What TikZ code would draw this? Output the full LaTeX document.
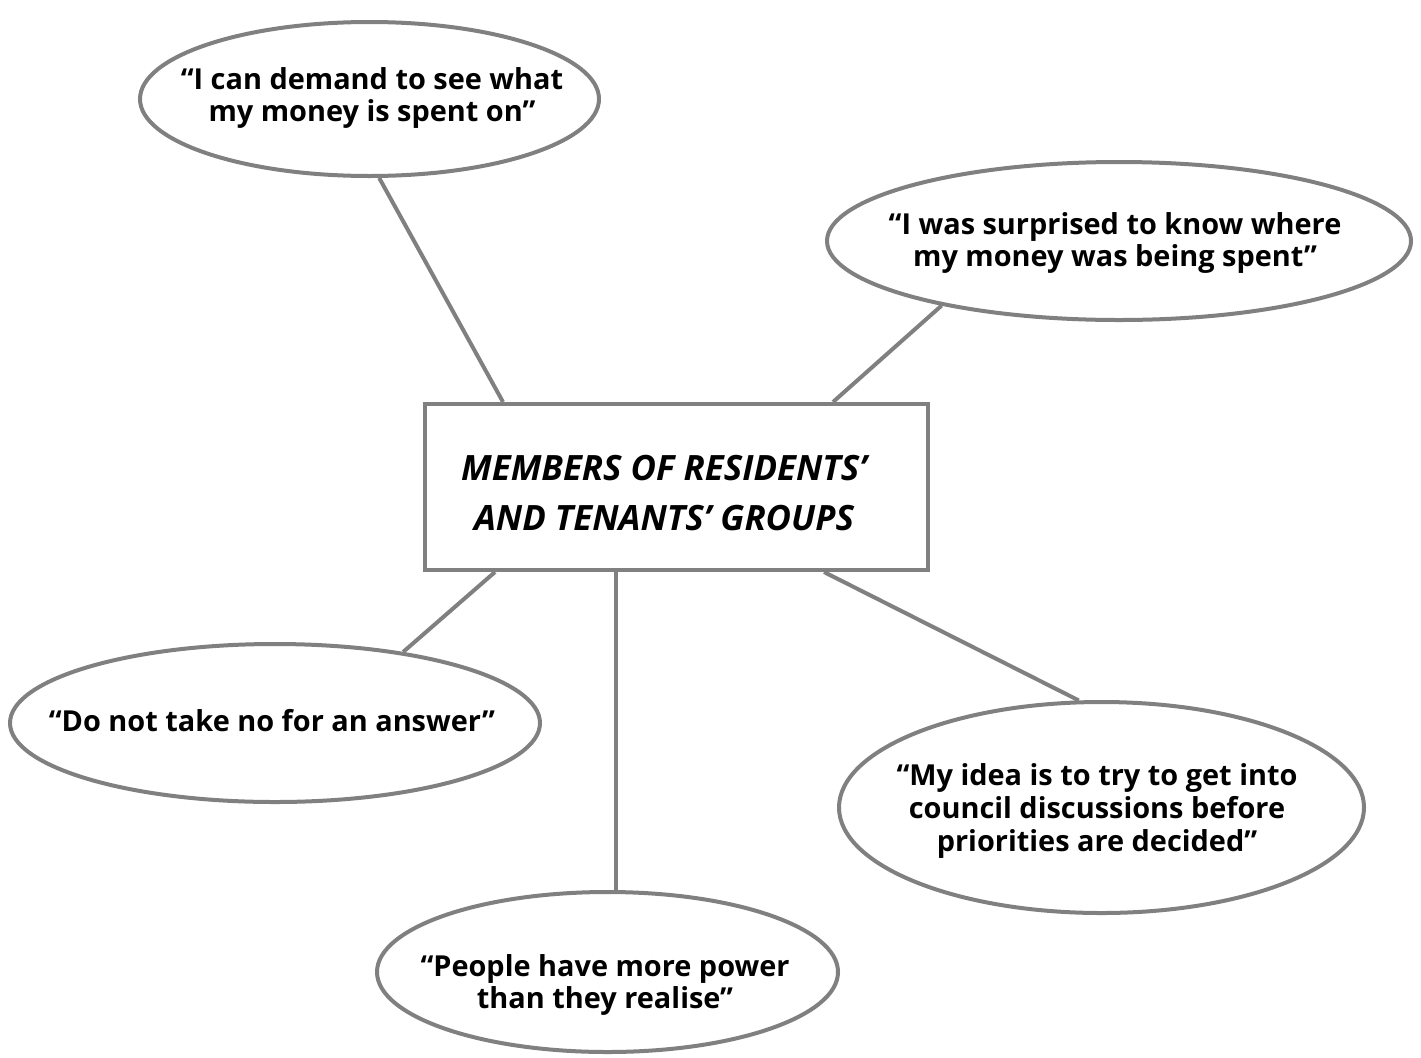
\documentclass[tikz,border=0pt]{standalone}
\usepackage{fontspec}
\setmainfont{Open Sans}
\usetikzlibrary{shapes.geometric,calc}
\definecolor{linegray}{HTML}{808080}
\begin{document}
\begin{tikzpicture}[x=1bp,y=-1bp,
  bubble/.style={ellipse, draw=linegray, line width=4bp, fill=white, inner sep=0pt},
  quote/.style={font=\fontsize{29}{33}\selectfont\bfseries, align=center, text=black, inner sep=0pt},
  titlebox/.style={rectangle, draw=linegray, line width=4bp, fill=white, inner sep=0pt, minimum width=503bp, minimum height=166bp},
  titletext/.style={font=\fontsize{35}{50}\selectfont\bfseries\itshape, align=center, text=black, inner sep=0pt},
  conn/.style={draw=linegray, line width=4bp}]
\useasboundingbox (0,0) rectangle (1421,1057);
\node[titlebox] (r) at (676.5,487) {};
\node[bubble, minimum width=459bp, minimum height=154bp] (e1) at (369.5,99) {};
\node[bubble, minimum width=584bp, minimum height=158bp] (e2) at (1119,241) {};
\node[bubble, minimum width=530bp, minimum height=158bp] (e3) at (275,723) {};
\node[bubble, minimum width=525bp, minimum height=211bp] (e4) at (1101.5,807.5) {};
\node[bubble, minimum width=461bp, minimum height=160bp] (e5) at (607.5,972) {};
\coordinate (c1) at ([xshift=80bp]r.north west);
\coordinate (c2) at ([xshift=410bp]r.north west);
\coordinate (c3) at ([xshift=72bp]r.south west);
\coordinate (c4) at ([xshift=193bp]r.south west);
\coordinate (c5) at ([xshift=401bp]r.south west);
\draw[conn] (c1) -- (e1.-83);
\draw[conn] (c2) -- (e2.-160);
\draw[conn] (c3) -- (e3.29);
\draw[conn] (c4) -- (c4 |- e5.north);
\draw[conn] (c5) -- (e4.102.6);
\node[titletext] (rt) at (664,493) {MEMBERS OF RESIDENTS’\\AND TENANTS’ GROUPS};
\node[quote] (t1) at (372,98) {“I can demand to see what\\my money is spent on”};
\node[quote] (t2) at (1115,243) {“I was surprised to know where\\my money was being spent”};
\node[quote] (t3) at (272,721) {“Do not take no for an answer”};
\node[quote] (t4) at (1097,811) {“My idea is to try to get into\\council discussions before\\priorities are decided”};
\node[quote] (t5) at (605,985) {“People have more power\\than they realise”};
\end{tikzpicture}
\end{document}
